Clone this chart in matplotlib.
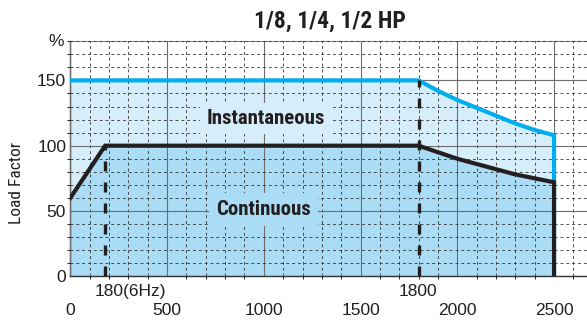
import matplotlib.pyplot as plt
from matplotlib.ticker import MultipleLocator

plt.rcParams['font.family'] = ['Liberation Sans', 'DejaVu Sans']
narrow = ['Roboto Condensed', 'Roboto', 'DejaVu Sans']

# Instantaneous (short-time) load limit, %
speed_inst = [0, 1800, 1900, 2000, 2100, 2200, 2300, 2400, 2500]
load_inst = [150, 150, 142, 135, 129, 123, 117, 112, 108]

# Continuous load limit, %
speed_cont = [0, 180, 1800, 1900, 2000, 2100, 2200, 2300, 2400, 2500]
load_cont = [60, 100, 100, 95, 90, 86, 82, 78, 75, 72]

max_speed = 2500
marks = [180, 1800]          # dashed reference speeds
mark_loads = [100, 150]
x_ticks = [0, 500, 1000, 1500, 2000, 2500]
y_ticks = [0, 50, 100, 150]

light = '#d6eefa'
dark = '#aadcf6'
cyan = '#00aeef'
ink = '#231f20'

fig = plt.figure(figsize=(5.87, 3.2), dpi=100)
ax = fig.add_axes([70.3 / 587, 1 - 276.3 / 320, 2700 * 0.1935 / 587, (276.3 - 41.2) / 320])
ax.set_xlim(0, 2700)
ax.set_ylim(0, 180)

# shaded regions
ax.fill_between(speed_inst, load_inst, 0, color=light, lw=0, zorder=1)
ax.fill_between(speed_cont, load_cont, 0, color=dark, lw=0, zorder=1.1)

# grid
ax.xaxis.set_major_locator(MultipleLocator(500))
ax.xaxis.set_minor_locator(MultipleLocator(100))
ax.yaxis.set_major_locator(MultipleLocator(50))
ax.yaxis.set_minor_locator(MultipleLocator(10))
ax.set_axisbelow(False)
ax.grid(which='major', color='#6d6d6d', lw=0.8, ls='-', zorder=2)
ax.grid(which='minor', color='#333333', lw=0.6, ls=(0, (3.5, 3.5)), zorder=2)

# limit curves
ax.plot(speed_inst + [max_speed], load_inst + [0], color=cyan, lw=3,
        solid_joinstyle='miter', zorder=3)
ax.plot(speed_cont + [max_speed], load_cont + [0], color=ink, lw=3,
        solid_joinstyle='miter', zorder=3.2)
for x, top in zip(marks, mark_loads):
    ax.plot([x, x], [0, top], color=ink, lw=2.4, ls=(0, (3, 3.3)), zorder=3.1)

ax.text(1009, 121, 'Instantaneous', family=narrow,
        fontweight='bold', fontsize=15, ha='center', va='center', color=ink, zorder=4,
        bbox=dict(boxstyle='square,pad=0.3', fc=light, ec='none'))
ax.text(1000, 51, 'Continuous', family=narrow,
        fontweight='bold', fontsize=15, ha='center', va='center', color=ink, zorder=4,
        bbox=dict(boxstyle='square,pad=0.35', fc=dark, ec='none'))

# axes frame and ticks
ax.set_xticks(x_ticks)
ax.set_yticks(y_ticks)
ax.tick_params(length=0, labelsize=12.5, colors='#231f20')
ax.tick_params(axis='x', pad=19)
ax.tick_params(axis='y', pad=3)
ax.spines['right'].set_visible(False)
ax.spines['top'].set_color('#8a8a8a')
ax.spines['top'].set_linewidth(0.8)
for side in ('left', 'bottom'):
    ax.spines[side].set_color('#333333')
    ax.spines[side].set_linewidth(1)

tx = ax.get_xaxis_transform()
ax.text(128, -0.066, '180(6Hz)', transform=tx, ha='left', va='center',
        fontsize=12.5, color=ink)
ax.text(1795, -0.066, '1800', transform=tx, ha='center', va='center',
        fontsize=12.5, color=ink)

fig.text(56 / 587, 1 - 42 / 320, '%', ha='center', va='center', fontsize=12.5, color=ink)
fig.text(17 / 587, 1 - 183 / 320, 'Load Factor', rotation=90, ha='center', va='center',
         family=narrow, fontsize=12.5, color=ink)
fig.text(330 / 587, 1 - 21 / 320, '1/8, 1/4, 1/2 HP', ha='center', va='center',
         family=narrow, fontweight='bold', fontsize=17, color=ink)

fig.savefig('out.png', dpi=100)
